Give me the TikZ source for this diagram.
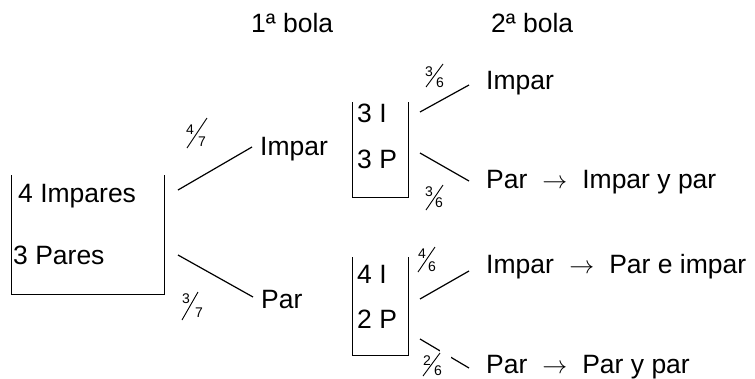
\documentclass[tikz,border=0pt]{standalone}
\usepackage{fontspec}
\setmainfont{Liberation Sans}
\begin{document}
\begin{tikzpicture}[x=1pt,y=-1pt,
  lbl/.style={font=\fontsize{26.5}{26.5}\selectfont, inner sep=0pt, anchor=base west},
  fd/.style={font=\fontsize{14}{14}\selectfont, inner sep=0pt},
  branch/.style={line width=1.2pt},
  urn/.style={line width=1pt},
  fslash/.style={line width=0.9pt},
  gap/.style={fill=white, draw=none, inner sep=0pt}]
\useasboundingbox (0,0) rectangle (755,378);
% headers
\node[lbl] (h1) at (251,32) {1ª bola};
\node[lbl] (h2) at (491,32) {2ª bola};
% initial urn
\draw[urn] (11,175) -- (11,294) -- (164,294) -- (164,175);
\node[lbl] (u0a) at (18,202) {4 Impares};
\node[lbl] (u0b) at (13,264) {3 Pares};
% first draw
\node[lbl] (b1i) at (260,155) {Impar};
\node[lbl] (b1p) at (261,308) {Par};
\coordinate (sA) at (178,190); \coordinate (eA) at (252,147);
\coordinate (sB) at (178,255); \coordinate (eB) at (253,297);
\draw[branch] (sA) -- (eA);
\draw[branch] (sB) -- (eB);
\node[fd] (f1n) at (190,130) {4}; \node[fd] (f1d) at (202,142) {7};
\draw[fslash] (187,148) -- (207,118);
\node[fd] (f2n) at (186,299) {3}; \node[fd] (f2d) at (199,313) {7};
\draw[fslash] (182,320) -- (198,292);
% upper urn
\draw[urn] (352,102) -- (352,197) -- (408,197) -- (408,102);
\node[lbl] (u1a) at (357,122) {3 I};
\node[lbl] (u1b) at (357,168) {3 P};
% lower urn
\draw[urn] (352,257) -- (352,355) -- (408,355) -- (408,257);
\node[lbl] (u2a) at (357,283) {4 I};
\node[lbl] (u2b) at (357,328) {2 P};
% second draw branches
\coordinate (sC) at (420,112); \coordinate (eC) at (469,85);
\coordinate (sD) at (420,153); \coordinate (eD) at (469,181);
\coordinate (sE) at (420,299); \coordinate (eE) at (469,271);
\coordinate (sF) at (420,339); \coordinate (eF) at (469,368);
\draw[branch] (sC) -- (eC);
\draw[branch] (sD) -- (eD);
\draw[branch] (sE) -- (eE);
\draw[branch] (sF) -- (eF);
% fractions second draw
\node[fd] (f3n) at (429,72) {3}; \node[fd] (f3d) at (440,83) {6};
\draw[fslash] (426,87) -- (443,64);
\node[fd] (f4n) at (429,192) {3}; \node[fd] (f4d) at (439,203) {6};
\draw[fslash] (426,210) -- (443,185);
\node[fd] (f5n) at (422,254) {4}; \node[fd] (f5d) at (432,267) {6};
\draw[fslash] (418,272) -- (435,247);
\node[gap, minimum width=11pt, minimum height=9pt] (g6) at (445.5,353.5) {};
\node[fd] (f6n) at (427,361) {2}; \node[fd] (f6d) at (438,370.5) {6};
\draw[fslash] (423,376) -- (440,353);
% outcomes
\node[lbl] (o1) at (486,89) {Impar};
\node[lbl] (o2) at (486,188) {Par\hspace{15pt}$\rightarrow$\hspace{15pt}Impar y par};
\node[lbl] (o3) at (486,273) {Impar\hspace{15.5pt}$\rightarrow$\hspace{15pt}Par e impar};
\node[lbl] (o4) at (486,373) {Par\hspace{15pt}$\rightarrow$\hspace{15pt}Par y par};
\end{tikzpicture}
\end{document}
